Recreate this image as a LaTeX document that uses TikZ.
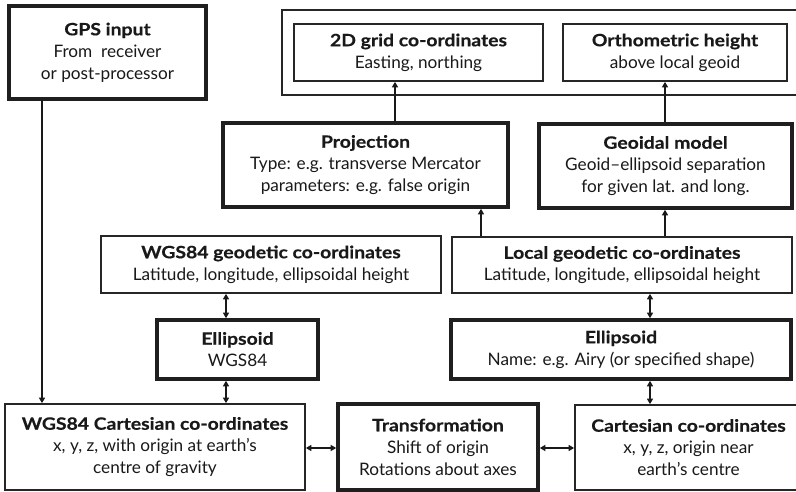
\documentclass[tikz,border=0pt]{standalone}
\usepackage{fontspec}
\setmainfont{Lato}
\newfontfamily\titlefam[FakeStretch=1.14,FakeBold=0.4]{Lato Bold}
\usetikzlibrary{arrows.meta}
\newcommand\ttl[1]{{\titlefam\fontsize{17}{22}\selectfont #1}}
\begin{document}
\begin{tikzpicture}[x=1pt,y=-1pt,
  every node/.style={font=\fontsize{17.2}{22}\selectfont, align=center, text=black!90},
  thinbox/.style={draw=black!85, line width=1.7pt, rectangle, inner sep=0pt},
  thickbox/.style={draw=black!88, line width=3.6pt, rectangle, inner sep=0pt},
  conn/.style={draw=black!90, line width=1.5pt},
  tip/.style={-{Triangle[length=5.5pt,width=6pt]}},
  both/.style={{Triangle[length=5.5pt,width=6pt]}-{Triangle[length=5.5pt,width=6pt]}},
]
\useasboundingbox (0,0) rectangle (796,492);
\clip (0,0) rectangle (796,492);
\fill[white] (0,0) rectangle (796,492);

\node[thickbox, minimum width=197pt, minimum height=93pt] (gps) at (107.5,52.5)
  {\ttl{GPS input}\\From\ \ receiver\\or post-processor};
\node[thinbox, minimum width=518pt, minimum height=85pt] (frame) at (541,52.5) {};
\node[thinbox, minimum width=249pt, minimum height=57pt] (grid) at (418.5,52.5)
  {\ttl{2D grid co-ordinates}\\Easting, northing};
\node[thinbox, minimum width=224pt, minimum height=57pt] (ortho) at (675,52.5)
  {\ttl{Orthometric height}\\above local geoid};
\node[thickbox, minimum width=285pt, minimum height=84pt] (proj) at (365.5,165)
  {\ttl{Projection}\\Type: e.g. transverse Mercator\\parameters: e.g. false origin};
\node[thickbox, minimum width=253pt, minimum height=84pt] (geoid) at (665.5,166)
  {\ttl{Geoidal model}\\Geoid–ellipsoid separation\\for given lat. and long.};
\node[thinbox, minimum width=340pt, minimum height=57pt] (wgeo) at (271,264.5)
  {\ttl{WGS84 geodetic co-ordinates}\\Latitude, longitude, ellipsoidal height};
\node[thinbox, minimum width=340pt, minimum height=56pt] (local) at (622,265)
  {\ttl{Local geodetic co-ordinates}\\Latitude, longitude, ellipsoidal height};
\node[thickbox, minimum width=161pt, minimum height=59pt] (ellw) at (237.5,349.5)
  {\ttl{Ellipsoid}\\WGS84};
\node[thickbox, minimum width=340pt, minimum height=59pt] (ella) at (621,349.5)
  {\ttl{Ellipsoid}\\Name: e.g. Airy (or specified shape)};
\node[thinbox, minimum width=300pt, minimum height=86pt] (wcart) at (155,447)
  {\ttl{WGS84 Cartesian co-ordinates}\\x, y, z, with origin at earth’s\\centre of gravity};
\node[thickbox, minimum width=200pt, minimum height=86pt] (trans) at (438,447)
  {\ttl{Transformation}\\Shift of origin\\Rotations about axes};
\node[thinbox, minimum width=227pt, minimum height=85pt] (cart) at (688.5,447.5)
  {\ttl{Cartesian co-ordinates}\\x, y, z, origin near\\earth’s centre};

\coordinate (xg) at (42,0);
\coordinate (xp) at (395,0);
\coordinate (xo) at (665,0);
\coordinate (xl) at (481,0);
\coordinate (xw) at (226,0);
\coordinate (xa) at (650,0);
\coordinate (yt) at (0,448);

\draw[conn,tip] (gps.south -| xg) -- (wcart.north -| xg);
\draw[conn,tip] (proj.north -| xp) -- (grid.south -| xp);
\draw[conn,tip] (geoid.north -| xo) -- (ortho.south -| xo);
\draw[conn,tip] (local.north -| xl) -- (proj.south -| xl);
\draw[conn,tip] (local.north -| xo) -- (geoid.south -| xo);
\draw[conn,both] (wgeo.south -| xw) -- (ellw.north -| xw);
\draw[conn,both] (ellw.south -| xw) -- (wcart.north -| xw);
\draw[conn,both] (local.south -| xa) -- (ella.north -| xa);
\draw[conn,both] (ella.south -| xa) -- (cart.north -| xa);
\draw[conn,both] (wcart.east |- yt) -- (trans.west |- yt);
\draw[conn,both] (trans.east |- yt) -- (cart.west |- yt);
\end{tikzpicture}
\end{document}
